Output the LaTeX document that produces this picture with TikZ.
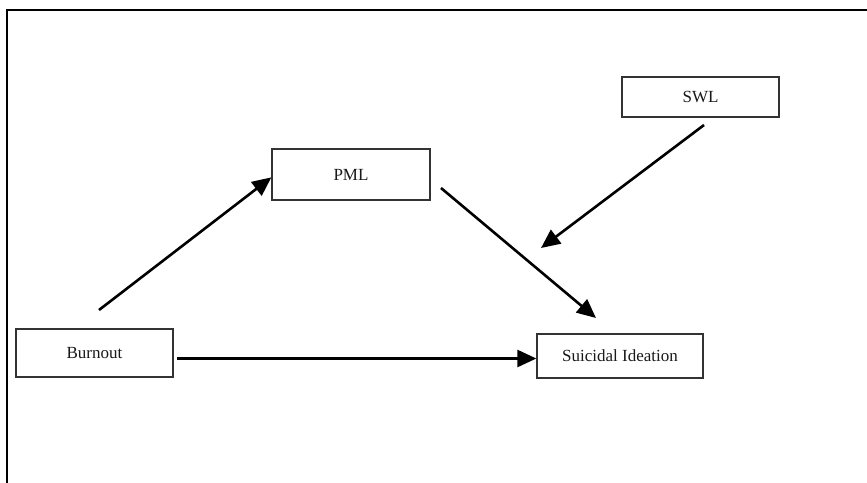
\documentclass[tikz,border=0pt]{standalone}
\usepackage{fontspec}
\setmainfont{Liberation Serif}
\usetikzlibrary{arrows.meta}
\tikzset{
  varbox/.style={draw=black!80, line width=1.3pt, fill=white, inner sep=0pt,
    font=\fontsize{17}{20}\selectfont, text=black!90},
  arr/.style={line width=2.6pt, -{Triangle[length=19pt,width=17pt]}},
  frameline/.style={line width=2.8pt}
}
\begin{document}
\begin{tikzpicture}[x=1pt,y=-1pt]
\useasboundingbox (0,0) rectangle (867,482);
\draw[frameline] (7,484) -- (7,10) -- (869,10);
\node[varbox, minimum width=157pt, minimum height=40pt] (swl) at (700.5,97) {SWL};
\node[varbox, minimum width=158pt, minimum height=51pt] (pml) at (351,174.5) {PML};
\node[varbox, minimum width=157pt, minimum height=48pt] (bo) at (94.5,353) {Burnout};
\node[varbox, minimum width=166pt, minimum height=44pt] (si) at (620,356) {Suicidal Ideation};
\coordinate (b1) at (99,310);
\coordinate (b2) at (177,358.5);
\coordinate (p1) at (441,188);
\coordinate (p2) at (596,318);
\coordinate (s1) at (704,125);
\coordinate (s2) at (541,248);
\draw[arr] (b1) -- ([yshift=-29pt]pml.north west);
\draw[arr] (b2) -- (si.west |- b2);
\draw[arr] (p1) -- (p2);
\draw[arr] (s1) -- (s2);
\end{tikzpicture}
\end{document}
